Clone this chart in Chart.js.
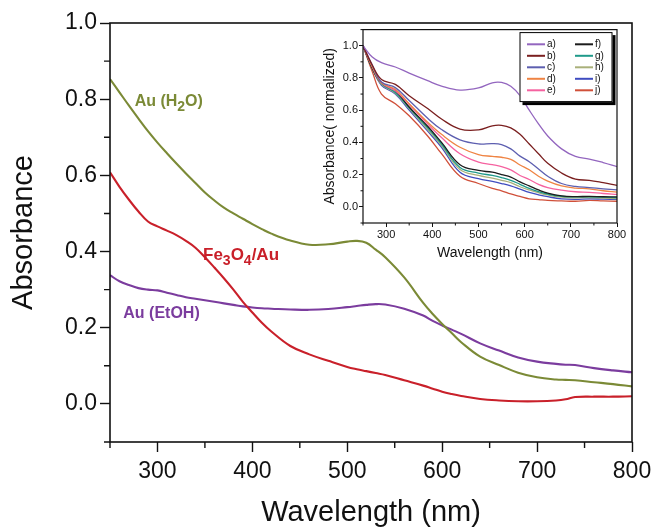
<!DOCTYPE html>
<html>
<head>
<meta charset="utf-8">
<script src="https://cdn.jsdelivr.net/npm/chart.js"></script>
<style>
  html, body { margin: 0; padding: 0; background: #fff; }
  #wrap { position: relative; width: 652px; height: 527px; }
  #chart { position: absolute; left: 0; top: 0; }
  #inset { position: absolute; left: 318px; top: 22px; }
</style>
</head>
<body>
<div id="wrap">
  <canvas id="chart" width="652" height="527"></canvas>
  <canvas id="inset" width="312" height="248"></canvas>
</div>
<script>
// main plot: absorbance vs wavelength
var wavelength = [250,260,270,280,290,300,310,320,330,340,350,360,370,380,390,400,410,420,440,460,480,500,510,520,530,540,560,580,590,600,610,620,640,660,680,700,720,730,740,760,780,800];
var auH2O = [0.853,0.818,0.783,0.749,0.716,0.686,0.658,0.631,0.605,0.58,0.555,0.534,0.515,0.5,0.486,0.472,0.459,0.447,0.429,0.418,0.419,0.426,0.428,0.423,0.405,0.385,0.332,0.265,0.236,0.21,0.186,0.162,0.124,0.102,0.082,0.07,0.064,0.063,0.062,0.057,0.052,0.046];
var fe3o4Au = [0.608,0.57,0.536,0.505,0.479,0.466,0.455,0.443,0.428,0.41,0.385,0.358,0.33,0.3,0.268,0.24,0.213,0.19,0.152,0.13,0.113,0.097,0.091,0.086,0.081,0.076,0.062,0.048,0.04,0.032,0.026,0.021,0.013,0.009,0.007,0.007,0.009,0.012,0.018,0.019,0.019,0.02];
var auEtOH = [0.338,0.322,0.312,0.304,0.3,0.298,0.292,0.286,0.28,0.276,0.272,0.268,0.264,0.26,0.256,0.253,0.251,0.25,0.248,0.247,0.249,0.254,0.257,0.26,0.262,0.261,0.25,0.232,0.218,0.206,0.195,0.184,0.159,0.14,0.122,0.111,0.105,0.103,0.102,0.094,0.088,0.083];
var mainXTicks = [300,400,500,600,700,800];
var mainXMinor = [250,350,450,550,650,750];
var mainYTicks = [0,0.2,0.4,0.6,0.8,1.0];
var mainYMinor = [-0.1,0.1,0.3,0.5,0.7,0.9];

// inset: normalized spectra a) - j)
var insetWavelength = [250,270,290,320,350,390,420,460,500,530,550,570,590,610,630,650,680,710,740,770,800];
var insetLabels = ["a)","b)","c)","d)","e)","f)","g)","h)","i)","j)"];
var seriesA = [1.0,0.93,0.895,0.868,0.83,0.783,0.75,0.725,0.738,0.77,0.772,0.748,0.69,0.6,0.515,0.44,0.36,0.313,0.297,0.275,0.25];
var seriesB = [1.0,0.88,0.79,0.76,0.69,0.61,0.545,0.483,0.478,0.503,0.506,0.49,0.45,0.39,0.33,0.27,0.21,0.172,0.165,0.15,0.133];
var seriesC = [1.0,0.88,0.775,0.74,0.66,0.55,0.48,0.416,0.391,0.393,0.387,0.36,0.315,0.28,0.235,0.19,0.145,0.127,0.12,0.112,0.105];
var seriesD = [1.0,0.87,0.77,0.73,0.64,0.525,0.45,0.37,0.325,0.313,0.308,0.295,0.26,0.23,0.19,0.16,0.13,0.117,0.112,0.1,0.092];
var seriesE = [1.0,0.87,0.77,0.72,0.635,0.515,0.43,0.33,0.278,0.262,0.25,0.23,0.195,0.17,0.14,0.12,0.104,0.094,0.09,0.083,0.078];
var seriesF = [1.0,0.86,0.77,0.72,0.62,0.5,0.4,0.262,0.226,0.215,0.2,0.185,0.155,0.13,0.105,0.085,0.068,0.064,0.065,0.063,0.062];
var seriesG = [1.0,0.86,0.765,0.71,0.615,0.49,0.39,0.245,0.21,0.195,0.182,0.165,0.14,0.115,0.095,0.08,0.066,0.062,0.062,0.06,0.058];
var seriesH = [1.0,0.86,0.76,0.705,0.61,0.48,0.38,0.232,0.195,0.178,0.165,0.15,0.125,0.105,0.088,0.074,0.06,0.056,0.058,0.055,0.052];
var seriesI = [1.0,0.86,0.755,0.7,0.6,0.47,0.37,0.215,0.175,0.158,0.145,0.13,0.11,0.09,0.075,0.063,0.05,0.047,0.05,0.048,0.046];
var seriesJ = [1.0,0.84,0.70,0.64,0.565,0.44,0.33,0.19,0.145,0.115,0.1,0.08,0.065,0.05,0.045,0.04,0.037,0.035,0.04,0.037,0.035];
var insetYTicks = [0,0.2,0.4,0.6,0.8,1.0];
var insetYMinor = [-0.1,0.1,0.3,0.5,0.7,0.9,1.1];
var insetXTicks = [300,400,500,600,700,800];
var insetXMinor = [250,350,450,550,650,750];

var family = "'Liberation Sans', Arial, sans-serif";

function pts(xs, ys) {
  return ys.map(function (v, i) { return { x: xs[i], y: v }; });
}

// box around the plot area
var frame = {
  id: "frame",
  afterDraw: function (chart, args, opts) {
    var ctx = chart.ctx, a = chart.chartArea;
    ctx.save();
    ctx.strokeStyle = "#111";
    ctx.lineWidth = opts.width;
    ctx.strokeRect(a.left, a.top, a.right - a.left, a.bottom - a.top);
    ctx.restore();
  }
};

// short ticks between the labelled ones
var minorTicks = {
  id: "minorTicks",
  afterDraw: function (chart, args, opts) {
    var ctx = chart.ctx, a = chart.chartArea, s = chart.scales;
    ctx.save();
    ctx.strokeStyle = "#111";
    ctx.lineWidth = opts.width;
    ctx.beginPath();
    opts.x.forEach(function (v) {
      var px = s.x.getPixelForValue(v);
      ctx.moveTo(px, a.bottom);
      ctx.lineTo(px, a.bottom + opts.length);
    });
    opts.y.forEach(function (v) {
      var py = s.y.getPixelForValue(v);
      ctx.moveTo(a.left, py);
      ctx.lineTo(a.left - opts.length, py);
    });
    ctx.stroke();
    ctx.restore();
  }
};

// curve names with subscripts, odd parts are subscripts
var curveLabels = {
  id: "curveLabels",
  afterDatasetsDraw: function (chart, args, opts) {
    var ctx = chart.ctx, s = chart.scales;
    ctx.save();
    ctx.textBaseline = "alphabetic";
    chart.data.datasets.forEach(function (ds) {
      var x = s.x.getPixelForValue(ds.tagAt[0]);
      var y = s.y.getPixelForValue(ds.tagAt[1]);
      var size = ds.tagSize || opts.size;
      ds.tag.forEach(function (part, i) {
        var sub = i % 2 === 1;
        ctx.font = "bold " + (sub ? opts.subSize : size) + "px " + family;
        ctx.fillStyle = ds.borderColor;
        ctx.fillText(part, x, sub ? y + opts.subDrop : y);
        x += ctx.measureText(part).width;
      });
    });
    ctx.restore();
  }
};

// two-column legend box with shadow
var insetLegend = {
  id: "insetLegend",
  afterDatasetsDraw: function (chart, args, opts) {
    var ctx = chart.ctx, a = chart.chartArea;
    var w = opts.boxWidth, h = opts.boxHeight;
    var left = a.right - opts.offsetRight - w, top = a.top + opts.offsetTop;
    ctx.save();
    ctx.fillStyle = "#000";
    ctx.fillRect(left + opts.shadow, top + opts.shadow, w, h);
    ctx.fillStyle = "#fff";
    ctx.fillRect(left, top, w, h);
    ctx.strokeStyle = "#000";
    ctx.lineWidth = 1;
    ctx.strokeRect(left + 0.5, top + 0.5, w - 1, h - 1);
    ctx.font = opts.font;
    ctx.textBaseline = "middle";
    chart.data.datasets.forEach(function (ds, i) {
      var col = Math.floor(i / opts.rows), row = i % opts.rows;
      var x = left + opts.colX[col];
      var y = top + opts.firstRow + row * opts.rowStep;
      ctx.strokeStyle = ds.borderColor;
      ctx.lineWidth = 2;
      ctx.beginPath();
      ctx.moveTo(x, y);
      ctx.lineTo(x + opts.lineLen, y);
      ctx.stroke();
      ctx.fillStyle = "#111";
      ctx.fillText(ds.label, x + opts.lineLen + 2, y);
    });
    ctx.restore();
  }
};

new Chart(document.getElementById("chart"), {
  type: "line",
  data: {
    datasets: [{
      label: "Au (H2O)",
      data: pts(wavelength, auH2O),
      borderColor: "#7b8a36",
      tag: ["Au (H", "2", "O)"],
      tagAt: [276, 0.782]
    }, {
      label: "Fe3O4/Au",
      data: pts(wavelength, fe3o4Au),
      borderColor: "#c9202a",
      tag: ["Fe", "3", "O", "4", "/Au"],
      tagAt: [348, 0.377],
      tagSize: 17
    }, {
      label: "Au (EtOH)",
      data: pts(wavelength, auEtOH),
      borderColor: "#7b3c9e",
      tag: ["Au (EtOH)"],
      tagAt: [264, 0.225]
    }]
  },
  options: {
    responsive: false,
    animation: false,
    layout: { padding: { top: 23, right: 20, left: 0, bottom: 0 } },
    elements: {
      point: { radius: 0 },
      line: { borderWidth: 2.1, tension: 0.4, fill: false }
    },
    plugins: {
      legend: { display: false },
      tooltip: { enabled: false },
      frame: { width: 1.6 },
      minorTicks: { x: mainXMinor, y: mainYMinor, length: 6, width: 1.4 },
      curveLabels: { size: 16, subSize: 14, subDrop: 5 }
    },
    scales: {
      x: {
        type: "linear", min: 250, max: 800,
        afterBuildTicks: function (s) { s.ticks = mainXTicks.map(function (v) { return { value: v }; }); },
        afterFit: function (s) { s.height = 85; s.paddingLeft = 0; s.paddingRight = 0; },
        grid: { drawOnChartArea: false, tickLength: 10, tickWidth: 1.4, tickColor: "#111" },
        border: { display: false },
        ticks: { font: { size: 23, family: family }, color: "#111", padding: 6, maxRotation: 0 },
        title: { display: true, text: "Wavelength (nm)", color: "#111",
          font: { size: 29, family: family, lineHeight: 1 }, padding: { top: 0, bottom: 0 } }
      },
      y: {
        min: -0.1, max: 1.0,
        afterBuildTicks: function (s) { s.ticks = mainYTicks.map(function (v) { return { value: v }; }); },
        afterFit: function (s) { s.width = 110; },
        grid: { drawOnChartArea: false, tickLength: 10, tickWidth: 1.4, tickColor: "#111" },
        border: { display: false },
        ticks: { font: { size: 23, family: family }, color: "#111", padding: 3,
          callback: function (v) { return v.toFixed(1); } },
        title: { display: true, text: "Absorbance", color: "#111",
          font: { size: 29, family: family, lineHeight: 1 }, padding: { top: 9, bottom: 0 } }
      }
    }
  },
  plugins: [frame, minorTicks, curveLabels]
});

var insetColors = ["#9366bf", "#7a1f1f", "#5d5fb0", "#ef8444", "#f562a0", "#1c1c1c", "#1f9a8a", "#a9b07a", "#3f4cc0", "#d0503a"];
var insetSeries = [seriesA, seriesB, seriesC, seriesD, seriesE, seriesF, seriesG, seriesH, seriesI, seriesJ];

new Chart(document.getElementById("inset"), {
  type: "line",
  data: {
    datasets: insetSeries.map(function (ys, i) {
      return { label: insetLabels[i], data: pts(insetWavelength, ys), borderColor: insetColors[i] };
    })
  },
  options: {
    responsive: false,
    animation: false,
    layout: { padding: { top: 5, right: 13, left: 0, bottom: 0 } },
    elements: {
      point: { radius: 0 },
      line: { borderWidth: 1.3, tension: 0.4, fill: false }
    },
    plugins: {
      legend: { display: false },
      tooltip: { enabled: false },
      frame: { width: 1.2 },
      minorTicks: { x: insetXMinor, y: insetYMinor, length: 2.5, width: 1 },
      insetLegend: { boxWidth: 93, boxHeight: 70, offsetRight: 4.5, offsetTop: 2.5, shadow: 3,
        rows: 5, firstRow: 12.2, rowStep: 11.5, colX: [7.5, 55.5], lineLen: 18,
        font: "10px " + family }
    },
    scales: {
      x: {
        type: "linear", min: 250, max: 800,
        afterBuildTicks: function (s) { s.ticks = insetXTicks.map(function (v) { return { value: v }; }); },
        afterFit: function (s) { s.height = 47; s.paddingLeft = 0; s.paddingRight = 0; },
        grid: { drawOnChartArea: false, tickLength: 4, tickWidth: 1, tickColor: "#111" },
        border: { display: false },
        ticks: { font: { size: 11, family: family }, color: "#111", padding: 1, maxRotation: 0 },
        title: { display: true, text: "Wavelength (nm)", color: "#111",
          font: { size: 14, family: family, lineHeight: 1 }, padding: { top: 0, bottom: 10 } }
      },
      y: {
        min: -0.1, max: 1.1,
        afterBuildTicks: function (s) { s.ticks = insetYTicks.map(function (v) { return { value: v }; }); },
        afterFit: function (s) { s.width = 45; },
        grid: { drawOnChartArea: false, tickLength: 4, tickWidth: 1, tickColor: "#111" },
        border: { display: false },
        ticks: { font: { size: 11, family: family }, color: "#111", padding: 1,
          callback: function (v) { return v.toFixed(1); } },
        title: { display: true, text: "Absorbance( normalized)", color: "#111",
          font: { size: 14, family: family, lineHeight: 1 }, padding: { top: 5, bottom: 0 } }
      }
    }
  },
  plugins: [frame, minorTicks, insetLegend]
});
</script>
</body>
</html>
